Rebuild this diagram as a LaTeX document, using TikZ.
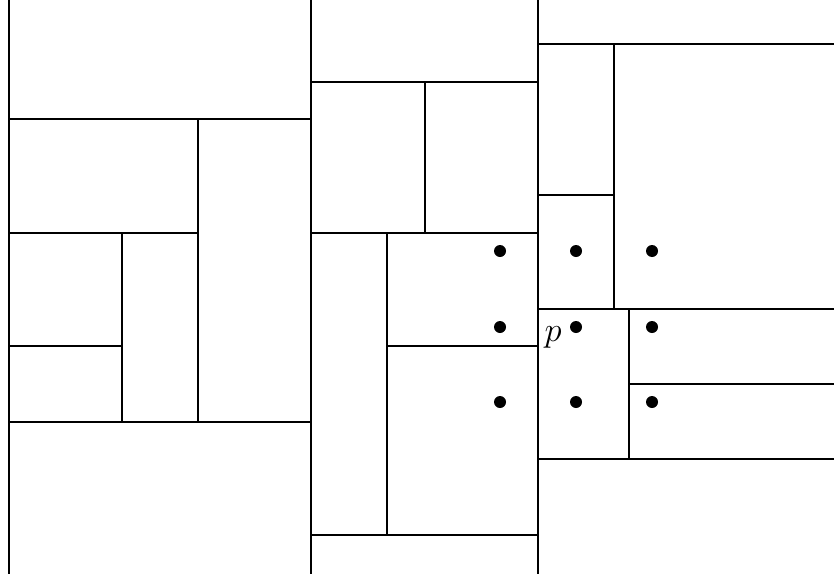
\documentclass[tikz,border=0pt]{standalone}
\usepackage{tikz}
\usetikzlibrary{positioning}

\begin{document}
\begin{tikzpicture}[x=0.5pt, y=-0.5pt,
  wall/.style={line width=0.8pt, line cap=rect},
  pt/.style={fill=black},
  lbl/.style={inner sep=0pt, font=\fontsize{16}{19}\selectfont}]
  \useasboundingbox (0,0) rectangle (834,573);
  % main columns
  \draw[wall] (9,0) -- (9,573);
  \draw[wall] (311,0) -- (311,573);
  \draw[wall] (538,0) -- (538,573);
  % left column
  \draw[wall] (9,119) -- (311,119);
  \draw[wall] (198,119) -- (198,422);
  \draw[wall] (9,233) -- (198,233);
  \draw[wall] (122,233) -- (122,422);
  \draw[wall] (9,346) -- (122,346);
  \draw[wall] (9,422) -- (311,422);
  % middle column
  \draw[wall] (311,82) -- (538,82);
  \draw[wall] (425,82) -- (425,233);
  \draw[wall] (311,233) -- (538,233);
  \draw[wall] (387,233) -- (387,535);
  \draw[wall] (387,346) -- (538,346);
  \draw[wall] (311,535) -- (538,535);
  % right column
  \draw[wall] (538,44) -- (834,44);
  \draw[wall] (614,44) -- (614,309);
  \draw[wall] (538,195) -- (614,195);
  \draw[wall] (538,309) -- (834,309);
  \draw[wall] (629,309) -- (629,459);
  \draw[wall] (629,384) -- (834,384);
  \draw[wall] (538,459) -- (834,459);
  % grid points
  \foreach \x in {500,576,652}
    \foreach \y in {251,327,402}
      \fill[pt] (\x,\y) circle (3pt);
  \node[lbl] (plabel) at (553,337) {$p$};
\end{tikzpicture}
\end{document}
